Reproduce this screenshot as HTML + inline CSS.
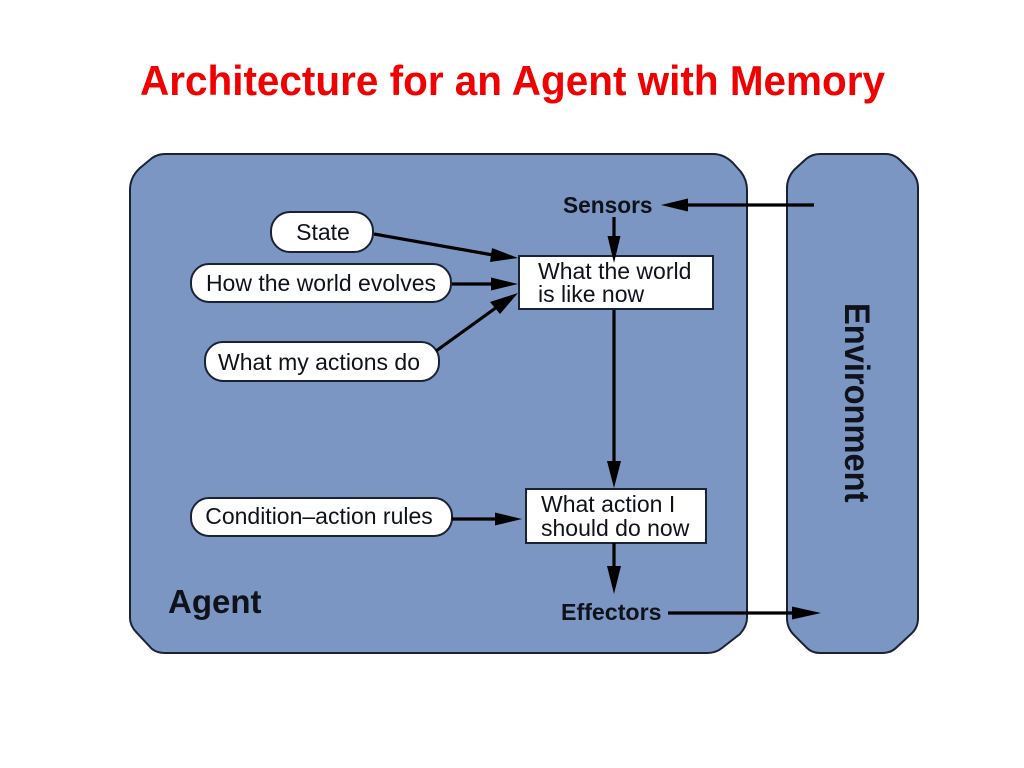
<!DOCTYPE html>
<html>
<head>
<meta charset="utf-8">
<style>
html,body{margin:0;padding:0;background:#fff;width:1024px;height:768px;overflow:hidden}
svg{display:block}
text{font-family:"Liberation Sans",sans-serif;fill:#0f121a}
</style>
</head>
<body>
<svg width="1024" height="768" viewBox="0 0 1024 768" xmlns="http://www.w3.org/2000/svg">
<text x="140" y="95" textLength="745" lengthAdjust="spacingAndGlyphs" style="font-size:42px;font-weight:bold;fill:#f00000">Architecture for an Agent with Memory</text>

<path d="M165 154H713Q724 154 733 163L741 172Q747 180 747 190V618Q747 626 740 634L722 648Q716 653 707 653H165Q157 653 152 649L137 633Q130 626 130 618V190Q130 177 140 168L152 158Q158 154 165 154Z" fill="#7b96c2" stroke="#1a2233" stroke-width="2"/>
<path d="M820 154H886Q894 154 900 160L911 171Q918 178 918 188V618Q918 628 911 634L897 647Q891 653 883 653H820Q812 653 807 648L794 635Q787 628 787 618V188Q787 178 794 170L806 159Q812 154 820 154Z" fill="#7b96c2" stroke="#1a2233" stroke-width="2"/>

<rect x="519" y="256" width="194" height="53" fill="#fff" stroke="#1a2233" stroke-width="2"/>
<rect x="526" y="489" width="180" height="54" fill="#fff" stroke="#1a2233" stroke-width="2"/>

<rect x="271" y="212" width="102" height="40" rx="19" fill="#fff" stroke="#1a2233" stroke-width="2"/>
<rect x="191" y="264" width="260" height="38" rx="18" fill="#fff" stroke="#1a2233" stroke-width="2"/>
<rect x="205" y="342" width="234" height="39" rx="18" fill="#fff" stroke="#1a2233" stroke-width="2"/>
<rect x="191" y="498" width="261" height="38" rx="18" fill="#fff" stroke="#1a2233" stroke-width="2"/>

<g stroke="#000" stroke-width="3.2" fill="none">
<line x1="688" y1="205" x2="814" y2="205"/>
<line x1="614" y1="217" x2="614" y2="240"/>
<line x1="374" y1="234" x2="493" y2="255"/>
<line x1="452" y1="284" x2="494" y2="284"/>
<line x1="436" y1="351" x2="497" y2="307"/>
<line x1="614" y1="310" x2="614" y2="466"/>
<line x1="452" y1="519" x2="497" y2="519"/>
<line x1="614" y1="543" x2="614" y2="570"/>
<line x1="668" y1="613" x2="795" y2="613"/>
</g>
<g fill="#000">
<polygon points="661,205 688,198.5 688,211.5"/>
<polygon points="614,263 607.5,236 620.5,236"/>
<polygon points="518,258 492,248 490,262"/>
<polygon points="518,284 491,277.5 491,290.5"/>
<polygon points="518,293 490,302 500,314"/>
<polygon points="614,488 607,461 621,461"/>
<polygon points="522,519 495,512.5 495,525.5"/>
<polygon points="614,594 607,566 621,566"/>
<polygon points="821,613 792,606.5 792,619.5"/>
</g>

<g style="font-size:23px">
<text x="323" y="240" text-anchor="middle">State</text>
<text x="321" y="291" text-anchor="middle">How the world evolves</text>
<text x="319" y="370" text-anchor="middle">What my actions do</text>
<text x="319" y="524" text-anchor="middle">Condition–action rules</text>
<text x="538" y="279">What the world</text>
<text x="538" y="302">is like now</text>
<text x="541" y="512">What action I</text>
<text x="541" y="536">should do now</text>
</g>
<text x="563" y="213" style="font-size:22.7px;font-weight:bold">Sensors</text>
<text x="561" y="620" style="font-size:23.2px;font-weight:bold">Effectors</text>
<text x="168" y="613" style="font-size:33px;font-weight:bold">Agent</text>
<text transform="translate(845,303) rotate(90) scale(1.02,1.1)" style="font-size:32px;font-weight:bold">Environment</text>
</svg>
</body>
</html>
